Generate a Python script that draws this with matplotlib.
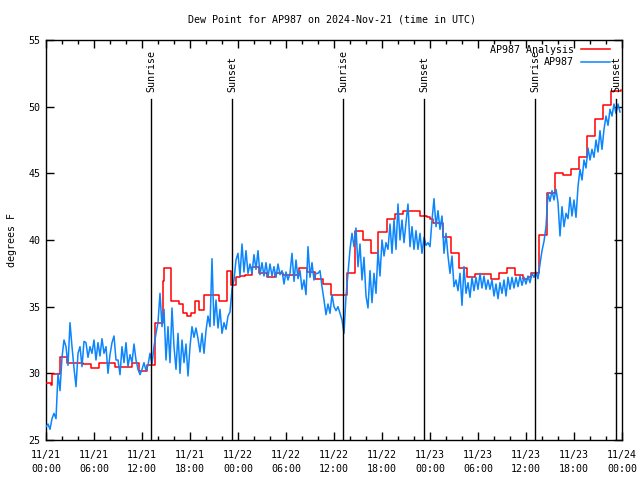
import numpy as np
import matplotlib
matplotlib.use("Agg")
import matplotlib.pyplot as plt
from matplotlib.ticker import MultipleLocator, FixedLocator

# ---------------- data ----------------
title = "Dew Point for AP987 on 2024-Nov-21 (time in UTC)"
ylabel = "degrees F"

# Analysis (step) series: change times (hours since 11/21 00:00 UTC) and values
red_t = [0.0, 0.6, 0.8, 1.75, 2.65, 4.67, 5.67, 6.6, 8.67, 10.7, 11.67, 12.6,
         13.67, 14.6, 14.75, 15.6, 16.67, 17.1, 17.6, 18.1, 18.67, 19.1, 19.75,
         21.67, 22.6, 23.1, 23.7, 24.2, 24.9, 25.7, 26.67, 27.67, 28.67, 29.67,
         31.67, 32.6, 33.6, 34.6, 35.6, 37.6, 38.6, 39.6, 40.6, 41.5, 42.6,
         43.6, 44.6, 46.7, 47.6, 48.0, 48.4, 49.6, 50.6, 51.6, 52.6, 53.6,
         55.6, 56.6, 57.6, 58.6, 59.6, 60.25, 60.6, 61.6, 62.6, 63.6, 64.6,
         65.6, 66.6, 67.6, 68.6, 69.6, 70.6, 71.85]
red_v = [29.27, 29.1, 29.95, 31.2, 30.8, 30.7, 30.4, 30.8, 30.5, 30.75, 30.15, 30.6,
         33.75, 36.9, 37.9, 35.4, 35.2, 34.5, 34.3, 34.5, 35.4, 34.75, 35.85,
         35.4, 37.7, 36.6, 37.2, 37.3, 37.4, 37.95, 37.55, 37.2, 37.5, 37.35,
         37.9, 37.6, 37.1, 36.7, 35.85, 37.5, 40.7, 40.0, 39.0, 40.6, 41.6,
         41.95, 42.2, 41.8, 41.75, 41.55, 41.3, 40.2, 39.05, 37.9, 37.2, 37.45,
         37.05, 37.5, 37.9, 37.4, 37.1, 37.25, 37.55, 40.4, 43.5, 45.0, 44.85,
         45.3, 46.2, 47.8, 49.1, 50.1, 51.2, 51.25]

# Observations, every 15 minutes from 11/21 00:00 UTC
blue_v = [
    # 11/21 00-11
    26.0, 26.2, 25.8, 26.6, 27.0, 26.6, 30.0, 28.7, 31.2, 32.5, 32.0, 30.6,
    33.8, 32.0, 30.4, 29.0, 31.5, 32.0, 30.5, 32.4, 32.3, 31.2, 32.0, 31.5,
    32.5, 31.0, 32.3, 31.3, 32.6, 31.5, 32.0, 30.0, 31.4, 32.3, 32.8, 31.0,
    31.0, 29.9, 32.0, 30.8, 32.3, 30.5, 31.4, 30.8, 32.2, 31.0, 30.3, 29.9,
    # 11/21 12-23
    30.3, 30.8, 30.2, 30.6, 31.5, 30.7, 32.0, 33.0, 33.8, 36.0, 33.5, 34.8,
    31.0, 33.5, 30.8, 34.9, 32.0, 30.3, 33.0, 30.0, 32.5, 30.8, 32.2, 29.8,
    32.0, 33.5, 32.7, 33.4, 32.6, 31.6, 33.0, 31.5, 33.2, 34.3, 33.5, 38.6,
    33.6, 35.5, 33.4, 34.8, 33.0, 33.8, 33.3, 34.3, 34.6, 36.3, 37.0, 38.5,
    # 11/22 00-11
    39.0, 37.3, 39.7, 37.6, 39.2, 37.5, 38.2, 37.5, 38.9, 37.8, 39.2, 37.4,
    38.3, 37.3, 38.3, 37.2, 38.2, 37.3, 38.0, 37.2, 38.2, 37.4, 37.7, 36.7,
    37.6, 37.0, 37.5, 39.0, 36.9, 38.5, 37.1, 37.7, 36.3, 37.0, 35.9, 39.5,
    37.2, 38.3, 37.0, 37.5, 37.5, 37.7, 36.5, 35.5, 34.4, 35.2, 34.5, 35.9,
    # 11/22 12-23
    35.0, 34.7, 35.0, 34.5, 34.0, 33.0, 35.8, 37.5, 39.3, 40.5, 39.5, 40.9,
    38.0, 39.7, 37.0, 38.7, 35.8, 34.9, 37.7, 35.3, 37.5, 36.0, 39.2, 37.3,
    40.0, 38.8, 39.8, 39.3, 41.2, 39.0, 41.5, 39.3, 42.7, 40.0, 41.5, 39.8,
    41.3, 42.7, 39.5, 41.0, 39.3, 40.7, 39.3, 40.5, 39.0, 40.2, 39.6, 39.8,
    # 11/23 00-11
    39.5, 41.5, 43.1, 41.0, 42.2, 40.8, 41.8, 39.0, 40.5, 38.8, 37.5, 38.8,
    36.5, 37.0, 36.2, 37.5, 35.1, 38.0, 36.0, 36.8, 35.7, 37.2, 36.2, 37.2,
    36.3, 37.5, 36.4, 37.3, 36.3, 37.0, 36.3, 37.0, 35.8, 36.7, 35.6, 36.8,
    36.0, 37.0, 35.8, 37.2, 36.3, 37.2, 36.4, 37.2, 36.5, 37.3, 36.6, 37.2,
    # 11/23 12-23
    36.7, 37.3, 36.8, 37.5, 37.2, 37.6, 37.1, 38.2, 39.2, 39.9, 41.0, 43.5,
    42.9, 43.7, 43.0, 43.8, 42.8, 40.3, 42.5, 41.0, 42.0, 41.6, 43.2, 41.8,
    43.0, 41.7, 44.0, 45.3, 44.5, 46.0, 45.4, 46.9, 46.0, 46.8, 46.2, 47.5,
    46.6, 48.2, 46.8, 48.3, 49.3, 48.6, 49.8, 49.3, 50.2, 49.5, 50.2, 49.6,
]
blue_t = np.arange(len(blue_v)) * 0.25

sunrise_t = [13.17, 37.17, 61.17]
sunset_t = [23.29, 47.29, 71.29]

xtick_hours = [0, 6, 12, 18, 24, 30, 36, 42, 48, 54, 60, 66, 72]
xtick_labels = ["11/21\n00:00", "11/21\n06:00", "11/21\n12:00", "11/21\n18:00",
                "11/22\n00:00", "11/22\n06:00", "11/22\n12:00", "11/22\n18:00",
                "11/23\n00:00", "11/23\n06:00", "11/23\n12:00", "11/23\n18:00",
                "11/24\n00:00"]
yticks = [25, 30, 35, 40, 45, 50, 55]

# ---------------- plot ----------------
FONT = "DejaVu Sans Mono"
FS = 7.2
plt.rcParams["font.family"] = FONT
plt.rcParams["font.size"] = FS

fig = plt.figure(figsize=(6.4, 4.8), dpi=100)
ax = fig.add_axes([46 / 640, 1 - 440 / 480, 576 / 640, 400 / 480])

ax.step(red_t, red_v, where="post", color="#ff0000", lw=1.1, label="AP987 Analysis", zorder=3)
ax.plot(blue_t, blue_v, color="#0a84ff", lw=1.1, label="AP987", zorder=4)

for t in sunrise_t + sunset_t:
    ax.plot([t, t], [0, 0.8525], color="black", lw=1.0,
            transform=ax.get_xaxis_transform(), zorder=5)
for t, lab in [(t, "Sunrise") for t in sunrise_t] + [(t, "Sunset") for t in sunset_t]:
    ax.text(t, 0.87, lab, rotation=90, ha="center", va="bottom",
            transform=ax.get_xaxis_transform(), fontsize=FS, zorder=6)

ax.set_xlim(0, 72)
ax.set_ylim(25, 55)
ax.xaxis.set_major_locator(FixedLocator(xtick_hours))
ax.set_xticklabels(xtick_labels, linespacing=1.55)
ax.xaxis.set_minor_locator(MultipleLocator(2))
ax.set_yticks(yticks)
ax.tick_params(axis="both", which="both", direction="in", top=True, right=True,
               colors="black", labelsize=FS, width=1.0)
ax.tick_params(axis="x", which="major", length=6, pad=7)
ax.tick_params(axis="x", which="minor", length=3)
ax.tick_params(axis="y", which="major", length=6, pad=4)
for s in ax.spines.values():
    s.set_linewidth(1.0)
    s.set_color("black")

ax.set_ylabel(ylabel, fontsize=FS, labelpad=8)
fig.text(332 / 640, 1 - 19 / 480, title, ha="center", va="center", fontsize=FS)

leg = ax.legend(loc="upper right", bbox_to_anchor=(1.0, 1.0 + 7.0 / 400),
                frameon=False, fontsize=FS, handlelength=2.9,
                markerfirst=False, borderaxespad=0.8, borderpad=0.4,
                labelspacing=0.25, handletextpad=0.7)
for t in leg.get_texts():
    t.set_ha("right")

fig.savefig("out.png", dpi=100)
